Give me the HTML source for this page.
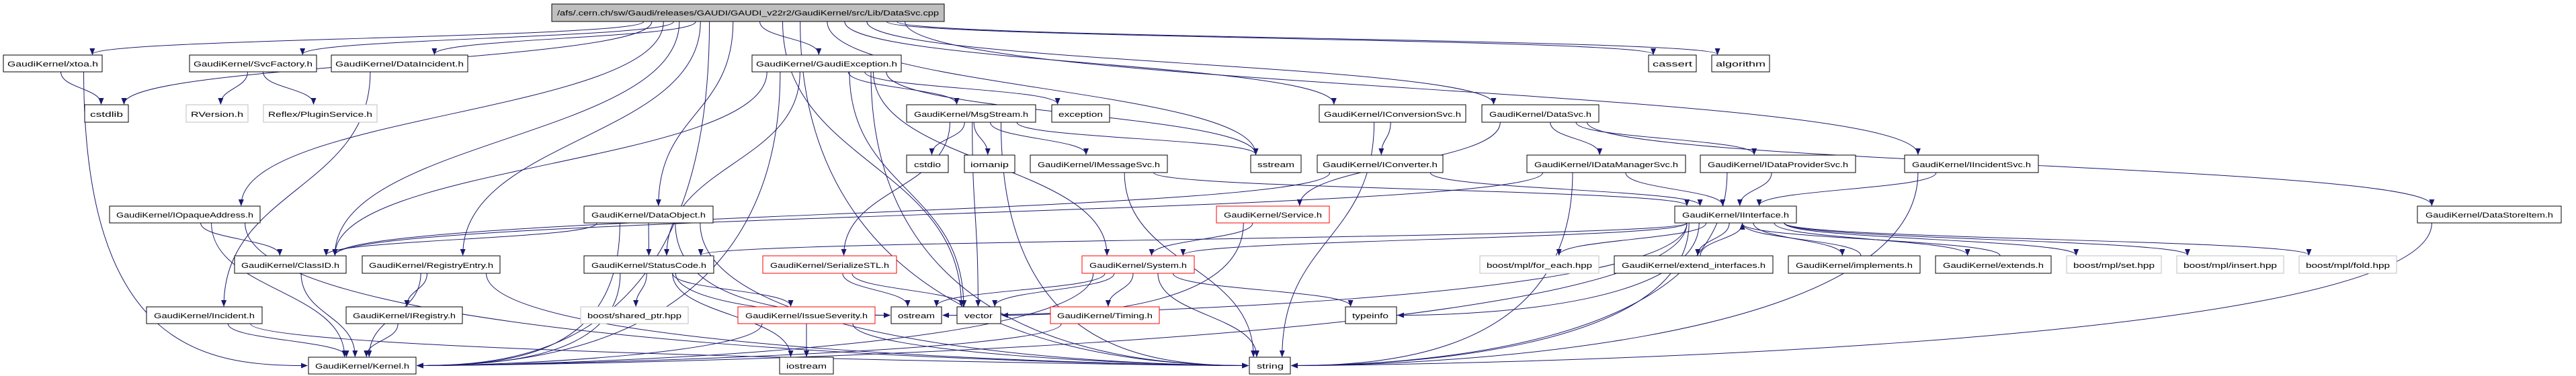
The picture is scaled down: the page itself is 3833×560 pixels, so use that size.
<!DOCTYPE html>
<html><head><meta charset="utf-8"><style>
html,body{margin:0;padding:0;background:#fff;}
svg{display:block;}
text{font-family:"Liberation Sans",sans-serif;font-size:11px;fill:#000;}
</style></head><body>
<svg id="g" width="3833" height="560" viewBox="0 0 3833 560" xmlns="http://www.w3.org/2000/svg">
<defs><marker id="a" markerWidth="10" markerHeight="8" refX="9" refY="4" orient="auto" markerUnits="userSpaceOnUse"><path d="M0,0 L10,4 L0,8 z" fill="#191970"/></marker></defs>
<g id="edges" fill="none" stroke="#191970" stroke-width="1"></g>
<g id="nodes" stroke-width="1">
<rect x="821" y="6" width="584" height="26" fill="#bfbfbf" stroke="#000"/><text x="829" y="23" textLength="568" lengthAdjust="spacingAndGlyphs">/afs/.cern.ch/sw/Gaudi/releases/GAUDI/GAUDI_v22r2/GaudiKernel/src/Lib/DataSvc.cpp</text>
<rect x="5" y="82" width="147" height="25" fill="#fff" stroke="#000"/><text x="11" y="99" textLength="135" lengthAdjust="spacingAndGlyphs">GaudiKernel/xtoa.h</text>
<rect x="282" y="82" width="189" height="25" fill="#fff" stroke="#000"/><text x="288" y="99" textLength="177" lengthAdjust="spacingAndGlyphs">GaudiKernel/SvcFactory.h</text>
<rect x="493" y="82" width="203" height="25" fill="#fff" stroke="#000"/><text x="499" y="99" textLength="191" lengthAdjust="spacingAndGlyphs">GaudiKernel/DataIncident.h</text>
<rect x="1119" y="82" width="222" height="25" fill="#fff" stroke="#000"/><text x="1125" y="99" textLength="210" lengthAdjust="spacingAndGlyphs">GaudiKernel/GaudiException.h</text>
<rect x="2453" y="82" width="71" height="25" fill="#fff" stroke="#000"/><text x="2459" y="99" textLength="59" lengthAdjust="spacingAndGlyphs">cassert</text>
<rect x="2547" y="82" width="86" height="25" fill="#fff" stroke="#000"/><text x="2553" y="99" textLength="74" lengthAdjust="spacingAndGlyphs">algorithm</text>

<rect x="126" y="156" width="65" height="26" fill="#fff" stroke="#000"/><text x="134" y="174" textLength="49" lengthAdjust="spacingAndGlyphs">cstdlib</text>
<rect x="277" y="156" width="92" height="26" fill="#fff" stroke="#bfbfbf"/><text x="284" y="174" textLength="78" lengthAdjust="spacingAndGlyphs">RVersion.h</text>
<rect x="392" y="156" width="169" height="26" fill="#fff" stroke="#bfbfbf"/><text x="399" y="174" textLength="155" lengthAdjust="spacingAndGlyphs">Reflex/PluginService.h</text>
<rect x="1349" y="156" width="192" height="26" fill="#fff" stroke="#000"/><text x="1360" y="174" textLength="170" lengthAdjust="spacingAndGlyphs">GaudiKernel/MsgStream.h</text>
<rect x="1565" y="156" width="86" height="26" fill="#fff" stroke="#000"/><text x="1575" y="174" textLength="66" lengthAdjust="spacingAndGlyphs">exception</text>
<rect x="1963" y="156" width="218" height="26" fill="#fff" stroke="#000"/><text x="1970" y="174" textLength="204" lengthAdjust="spacingAndGlyphs">GaudiKernel/IConversionSvc.h</text>
<rect x="2205" y="156" width="174" height="26" fill="#fff" stroke="#000"/><text x="2216" y="174" textLength="152" lengthAdjust="spacingAndGlyphs">GaudiKernel/DataSvc.h</text>

<rect x="1349" y="231" width="62" height="26" fill="#fff" stroke="#000"/><text x="1360" y="249" textLength="40" lengthAdjust="spacingAndGlyphs">cstdio</text>
<rect x="1435" y="231" width="75" height="26" fill="#fff" stroke="#000"/><text x="1444" y="249" textLength="57" lengthAdjust="spacingAndGlyphs">iomanip</text>
<rect x="1533" y="231" width="204" height="26" fill="#fff" stroke="#000"/><text x="1544" y="249" textLength="182" lengthAdjust="spacingAndGlyphs">GaudiKernel/IMessageSvc.h</text>
<rect x="1861" y="231" width="75" height="26" fill="#fff" stroke="#000"/><text x="1871" y="249" textLength="55" lengthAdjust="spacingAndGlyphs">sstream</text>
<rect x="1960" y="231" width="187" height="26" fill="#fff" stroke="#000"/><text x="1968" y="249" textLength="171" lengthAdjust="spacingAndGlyphs">GaudiKernel/IConverter.h</text>
<rect x="2272" y="231" width="236" height="26" fill="#fff" stroke="#000"/><text x="2283" y="249" textLength="214" lengthAdjust="spacingAndGlyphs">GaudiKernel/IDataManagerSvc.h</text>
<rect x="2530" y="231" width="231" height="26" fill="#fff" stroke="#000"/><text x="2541" y="249" textLength="209" lengthAdjust="spacingAndGlyphs">GaudiKernel/IDataProviderSvc.h</text>
<rect x="2834" y="231" width="199" height="26" fill="#fff" stroke="#000"/><text x="2845" y="249" textLength="177" lengthAdjust="spacingAndGlyphs">GaudiKernel/IIncidentSvc.h</text>

<rect x="163" y="307" width="224" height="25" fill="#fff" stroke="#000"/><text x="173" y="324" textLength="204" lengthAdjust="spacingAndGlyphs">GaudiKernel/IOpaqueAddress.h</text>
<rect x="869" y="307" width="192" height="25" fill="#fff" stroke="#000"/><text x="880" y="324" textLength="170" lengthAdjust="spacingAndGlyphs">GaudiKernel/DataObject.h</text>
<rect x="1810" y="307" width="168" height="25" fill="#fff" stroke="#f00"/><text x="1821" y="324" textLength="146" lengthAdjust="spacingAndGlyphs">GaudiKernel/Service.h</text>
<rect x="2492" y="307" width="181" height="25" fill="#fff" stroke="#000"/><text x="2503" y="324" textLength="159" lengthAdjust="spacingAndGlyphs">GaudiKernel/IInterface.h</text>
<rect x="3597" y="307" width="214" height="25" fill="#fff" stroke="#000"/><text x="3609" y="324" textLength="190" lengthAdjust="spacingAndGlyphs">GaudiKernel/DataStoreItem.h</text>

<rect x="349" y="381" width="166" height="26" fill="#fff" stroke="#000"/><text x="359" y="399" textLength="146" lengthAdjust="spacingAndGlyphs">GaudiKernel/ClassID.h</text>
<rect x="539" y="381" width="205" height="26" fill="#fff" stroke="#000"/><text x="549" y="399" textLength="185" lengthAdjust="spacingAndGlyphs">GaudiKernel/RegistryEntry.h</text>
<rect x="869" y="381" width="193" height="26" fill="#fff" stroke="#000"/><text x="880" y="399" textLength="171" lengthAdjust="spacingAndGlyphs">GaudiKernel/StatusCode.h</text>
<rect x="1135" y="381" width="199" height="26" fill="#fff" stroke="#f00"/><text x="1146" y="399" textLength="177" lengthAdjust="spacingAndGlyphs">GaudiKernel/SerializeSTL.h</text>
<rect x="1610" y="381" width="167" height="26" fill="#fff" stroke="#f00"/><text x="1621" y="399" textLength="145" lengthAdjust="spacingAndGlyphs">GaudiKernel/System.h</text>
<rect x="2202" y="381" width="177" height="26" fill="#fff" stroke="#bfbfbf"/><text x="2212" y="399" textLength="157" lengthAdjust="spacingAndGlyphs">boost/mpl/for_each.hpp</text>
<rect x="2402" y="381" width="236" height="26" fill="#fff" stroke="#000"/><text x="2413" y="399" textLength="214" lengthAdjust="spacingAndGlyphs">GaudiKernel/extend_interfaces.h</text>
<rect x="2661" y="381" width="196" height="26" fill="#fff" stroke="#000"/><text x="2672" y="399" textLength="174" lengthAdjust="spacingAndGlyphs">GaudiKernel/implements.h</text>
<rect x="2880" y="381" width="172" height="26" fill="#fff" stroke="#000"/><text x="2891" y="399" textLength="150" lengthAdjust="spacingAndGlyphs">GaudiKernel/extends.h</text>
<rect x="3075" y="381" width="141" height="26" fill="#fff" stroke="#bfbfbf"/><text x="3085" y="399" textLength="121" lengthAdjust="spacingAndGlyphs">boost/mpl/set.hpp</text>
<rect x="3239" y="381" width="159" height="26" fill="#fff" stroke="#bfbfbf"/><text x="3249" y="399" textLength="139" lengthAdjust="spacingAndGlyphs">boost/mpl/insert.hpp</text>
<rect x="3421" y="381" width="145" height="26" fill="#fff" stroke="#bfbfbf"/><text x="3431" y="399" textLength="125" lengthAdjust="spacingAndGlyphs">boost/mpl/fold.hpp</text>

<rect x="218" y="457" width="172" height="25" fill="#fff" stroke="#000"/><text x="229" y="474" textLength="150" lengthAdjust="spacingAndGlyphs">GaudiKernel/Incident.h</text>
<rect x="515" y="457" width="173" height="25" fill="#fff" stroke="#000"/><text x="525" y="474" textLength="153" lengthAdjust="spacingAndGlyphs">GaudiKernel/IRegistry.h</text>
<rect x="864" y="457" width="160" height="25" fill="#fff" stroke="#bfbfbf"/><text x="874" y="474" textLength="140" lengthAdjust="spacingAndGlyphs">boost/shared_ptr.hpp</text>
<rect x="1098" y="457" width="204" height="25" fill="#fff" stroke="#f00"/><text x="1109" y="474" textLength="182" lengthAdjust="spacingAndGlyphs">GaudiKernel/IssueSeverity.h</text>
<rect x="1326" y="457" width="75" height="25" fill="#fff" stroke="#000"/><text x="1336" y="474" textLength="55" lengthAdjust="spacingAndGlyphs">ostream</text>
<rect x="1424" y="457" width="65" height="25" fill="#fff" stroke="#000"/><text x="1435" y="474" textLength="42" lengthAdjust="spacingAndGlyphs">vector</text>
<rect x="1563" y="457" width="162" height="25" fill="#fff" stroke="#f00"/><text x="1573" y="474" textLength="142" lengthAdjust="spacingAndGlyphs">GaudiKernel/Timing.h</text>
<rect x="2002" y="457" width="76" height="25" fill="#fff" stroke="#000"/><text x="2012" y="474" textLength="54" lengthAdjust="spacingAndGlyphs">typeinfo</text>

<rect x="459" y="532" width="160" height="25" fill="#fff" stroke="#000"/><text x="469" y="549" textLength="140" lengthAdjust="spacingAndGlyphs">GaudiKernel/Kernel.h</text>
<rect x="1160" y="532" width="80" height="25" fill="#fff" stroke="#000"/><text x="1170" y="549" textLength="60" lengthAdjust="spacingAndGlyphs">iostream</text>
<rect x="1859" y="532" width="61" height="25" fill="#fff" stroke="#000"/><text x="1870" y="549" textLength="40" lengthAdjust="spacingAndGlyphs">string</text>
</g>
</svg>
<script>
var N={root:[821,6,584,26],xtoa:[5,82,147,25],svcf:[282,82,189,25],dinc:[493,82,203,25],gexc:[1119,82,222,25],cassert:[2453,82,71,25],algo:[2547,82,86,25],
cstdlib:[126,156,65,26],rver:[277,156,92,26],plug:[392,156,169,26],msg:[1349,156,192,26],exc:[1565,156,86,26],iconv:[1963,156,218,26],dsvc:[2205,156,174,26],
cstdio:[1349,231,62,26],iomanip:[1435,231,75,26],imsg:[1533,231,204,26],sstream:[1861,231,75,26],icvt:[1960,231,187,26],idm:[2272,231,236,26],idp:[2530,231,231,26],iinc:[2834,231,199,26],
iopa:[163,307,224,25],dobj:[869,307,192,25],serv:[1810,307,168,25],iif:[2492,307,181,25],dsi:[3597,307,214,25],
cid:[349,381,166,26],rege:[539,381,205,26],sc:[869,381,193,26],ser:[1135,381,199,26],sys:[1610,381,167,26],fe:[2202,381,177,26],ei:[2402,381,236,26],imp:[2661,381,196,26],ext:[2880,381,172,26],set:[3075,381,141,26],ins:[3239,381,159,26],fold:[3421,381,145,26],
inc:[218,457,172,25],ireg:[515,457,173,25],shp:[864,457,160,25],iss:[1098,457,204,25],ost:[1326,457,75,25],vec:[1424,457,65,25],tim:[1563,457,162,25],ti:[2002,457,76,25],
ker:[459,532,160,25],ios:[1160,532,80,25],str:[1859,532,61,25]};
var E=[["root","xtoa"],["root","cstdlib"],["root","svcf"],["root","dinc"],["root","iopa"],["root","cid"],["root","ker"],["root","dobj"],["root","rege"],["root","gexc"],["root","vec"],["root","sstream"],["root","iconv"],["root","dsvc"],["root","iinc"],["root","cassert"],["root","algo"],["root","str"],
["xtoa","cstdlib"],["xtoa","ker"],["svcf","rver"],["svcf","plug"],["dinc","inc"],["iopa","cid"],["iopa","ker"],["iopa","str"],["cid","ker"],["rege","ker"],["rege","ireg"],["rege","str"],["ireg","ker"],["inc","ker"],["inc","str"],
["dobj","cid"],["dobj","sc"],["dobj","ker"],["dobj","str"],["dobj","ost"],["sc","shp"],["sc","iss"],["sc","ost"],["sc","ker"],["sc","ios"],["iss","ker"],["iss","ios"],["iss","str"],
["gexc","msg"],["gexc","exc"],["gexc","sc"],["gexc","ker"],["gexc","str"],["gexc","sstream"],["gexc","sys"],["gexc","vec"],["gexc","cid"],
["msg","cstdio"],["msg","iomanip"],["msg","imsg"],["msg","ser"],["msg","sstream"],["msg","str"],["msg","vec"],["imsg","iif"],["imsg","str"],["ser","ost"],["ser","vec"],
["sys","tim"],["sys","str"],["sys","vec"],["sys","ti"],["sys","ker"],["sys","ost"],["tim","ker"],["iconv","icvt"],["iconv","str"],["icvt","iif"],["icvt","cid"],
["dsvc","idm"],["dsvc","idp"],["dsvc","serv"],["dsvc","dsi"],["idm","iif"],["idm","cid"],["idm","str"],["idp","iif"],["idp","str"],["iinc","iif"],["iinc","str"],["serv","vec"],["serv","sys"],
["iif","fe"],["iif","ei"],["iif","imp"],["iif","ext"],["iif","set"],["iif","ins"],["iif","fold"],["iif","sys"],["iif","sc"],["iif","ker"],["iif","ti"],["iif","str"],["iif","ost"],
["ei","iif"],["imp","iif"],["ext","iif"],["dsi","str"]];
var g=document.getElementById("edges"),s="";
E.forEach(function(e){var a=N[e[0]],b=N[e[1]],x1,y1,x2,y2;
if(b[1]>a[1]){x1=a[0]+a[2]/2;y1=a[1]+a[3];x2=b[0]+b[2]/2;y2=b[1];
 var dx=x2-x1;
 if(b[1]>=457 && Math.abs(dx)>350 && b[1]-a[1]>=75){
  // enter from side
  x1+=Math.max(-a[2]/2.5,Math.min(a[2]/2.5,dx*0.1));
  var right=dx<0; x2= right? b[0]+b[2]+1 : b[0]-1; y2=b[1]+b[3]/2;
  var cx=x1+(x2-x1)*0.25;
  s+='<path marker-end="url(#a)" d="M'+x1+','+y1+' C'+x1+','+(y2-20)+' '+(right?x2+150:x2-150)+','+y2+' '+(right?x2+1:x2-1)+','+y2+'"/>';
  return;}
 x1+=Math.max(-a[2]/2.5,Math.min(a[2]/2.5,dx*0.15)); x2-=Math.max(-b[2]/2.5,Math.min(b[2]/2.5,dx*0.1));
 var m=(y2-y1)/2;s+='<path marker-end="url(#a)" d="M'+x1+','+y1+' C'+x1+','+(y1+m)+' '+x2+','+(y2-m)+' '+x2+','+(y2-1)+'"/>';}
else{x1=a[0]+a[2]/2+10;y1=a[1];x2=b[0]+b[2]/2+10;y2=b[1]+b[3];var m=(y1-y2)/2;
 s+='<path marker-end="url(#a)" d="M'+x1+','+y1+' C'+x1+','+(y1-m)+' '+x2+','+(y2+m)+' '+x2+','+(y2+1)+'"/>';}});
g.innerHTML=s;
</script>
</body></html>
